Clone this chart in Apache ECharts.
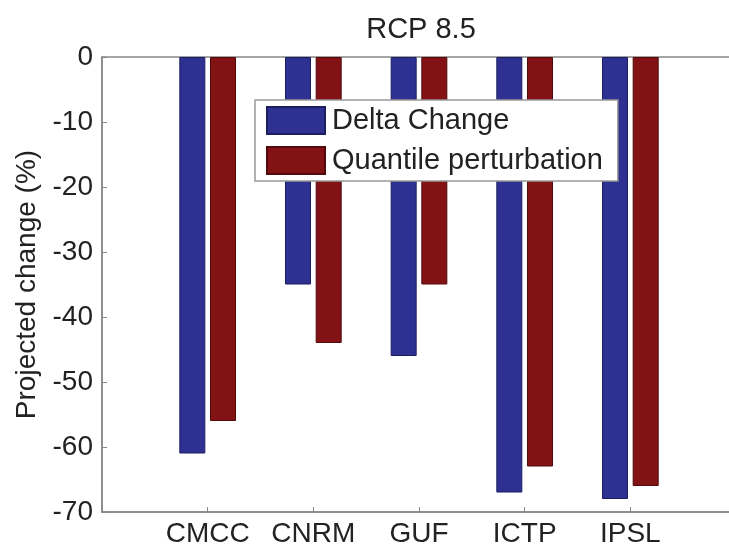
<!DOCTYPE html>
<html>
<head>
<meta charset="utf-8">
<script src="https://cdn.jsdelivr.net/npm/echarts@6/dist/echarts.min.js"></script>
<style type="text/css">
    #main {height:547px;width:729px;position:absolute;}
    body {margin:0px;padding:0px;overflow:hidden;background:#fff;}
</style>
</head>
<body>
<div id="main"></div>
<script type="text/javascript">
    let categories = ['CMCC', 'CNRM', 'GUF', 'ICTP', 'IPSL'];
    let deltaChange = [-61, -35, -46, -67, -68];
    let quantilePert = [-56, -44, -35, -63, -66];
    let yTicks = [0, -10, -20, -30, -40, -50, -60, -70];

    let myChart = echarts.init(document.getElementById('main'));
    let font = 'Liberation Sans, Arial, sans-serif';

    // x positions 1..5 on a 0..6 axis, like the original figure
    function toPoints(arr) {
        return arr.map(function (v, i) { return [i + 1, v]; });
    }

    let option = {
        animation: false,
        backgroundColor: '#fff',
        title: {
            text: 'RCP 8.5',
            left: 416,
            textAlign: 'center',
            top: 10,
            textStyle: {fontFamily: font, fontSize: 29, fontWeight: 'normal', color: '#222'}
        },
        legend: {
            data: ['Delta Change', 'Quantile perturbation'],
            orient: 'vertical',
            left: 255,
            top: 100,
            padding: [6, 15, 6, 11],
            itemWidth: 58,
            itemHeight: 27,
            itemGap: 11,
            icon: 'rect',
            selectedMode: false,
            backgroundColor: '#fff',
            borderColor: '#999',
            borderWidth: 1.5,
            textStyle: {fontFamily: font, fontSize: 29, color: '#222', padding: [0, 0, 0, 2]}
        },
        grid: {
            left: 102,
            width: 634,
            top: 57,
            bottom: 35,
            outerBoundsMode: 'none',
            show: true,
            borderColor: '#888',
            borderWidth: 1.5,
            backgroundColor: '#fff'
        },
        xAxis: {
            type: 'value',
            min: 0,
            max: 6,
            interval: 1,
            axisLine: {show: true, onZero: false, lineStyle: {color: '#888', width: 1.5}},
            axisTick: {show: true, inside: true, length: 5, lineStyle: {color: '#888'}},
            splitLine: {show: false},
            axisLabel: {
                margin: 8,
                fontFamily: font,
                fontSize: 28,
                color: '#222',
                formatter: function (v) {
                    return categories[v - 1] || '';
                }
            }
        },
        yAxis: {
            type: 'value',
            min: -70,
            max: 0,
            interval: 10,
            name: 'Projected change (%)',
            nameLocation: 'middle',
            nameGap: 55,
            nameTextStyle: {fontFamily: font, fontSize: 28, color: '#222'},
            axisLine: {show: true, lineStyle: {color: '#888', width: 1.5}},
            axisTick: {show: true, inside: true, length: 5, lineStyle: {color: '#888'}},
            splitLine: {show: false},
            axisLabel: {
                margin: 9,
                fontFamily: font,
                fontSize: 28,
                color: '#222',
                formatter: function (v) {
                    return yTicks.indexOf(v) >= 0 ? String(v) : '';
                }
            }
        },
        series: [
            {
                name: 'Delta Change',
                type: 'bar',
                barWidth: 26,
                barGap: '18%',
                itemStyle: {color: '#2e3192', borderColor: '#1c1e60', borderWidth: 1},
                data: toPoints(deltaChange)
            },
            {
                name: 'Quantile perturbation',
                type: 'bar',
                barWidth: 26,
                barGap: '18%',
                itemStyle: {color: '#821214', borderColor: '#520a0a', borderWidth: 1},
                data: toPoints(quantilePert)
            }
        ]
    };
    myChart.setOption(option);
    window.onresize = myChart.resize;
</script>
</body>
</html>
